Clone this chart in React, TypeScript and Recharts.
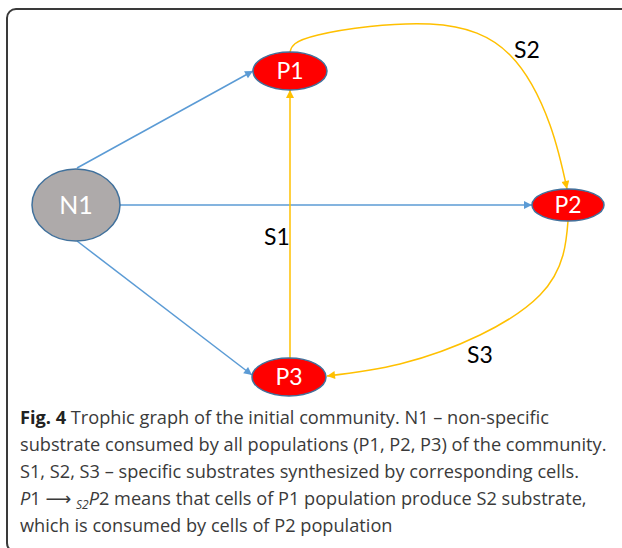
import React from "react";
import { ComposedChart, Line, Scatter, XAxis, YAxis } from "recharts";

// nodes of the trophic graph (plot units = pixels of the drawing area)
const nodeNames = ["N1", "P1", "P2", "P3"];
const nodeX = [76, 290, 568, 289];
const nodeY = [205, 71, 205, 377];

// non-specific substrate edges (N1 -> P*)
const n1Edges = [
  [[77, 168], [253, 71]],
  [[120, 205], [532, 205]],
  [[77, 241], [252, 375]],
];

// specific substrate edges
const s1Path = [[290, 358], [290, 90]];
const s2Path = [[290, 52], [318, 35], [430, 24], [510, 55], [550, 125], [567, 189]];
const s3Path = [[568, 221], [563, 255], [540, 295], [480, 335], [400, 364], [327, 376]];

const edgeLabels = ["S1", "S2", "S3"];
const edgeLabelX = [277, 527, 480];
const edgeLabelY = [237, 50, 355];

const BLUE = "#5B9BD5";
const ORANGE = "#FFC000";
const NODE_STROKE = "#41719C";
const FONT = "Lato, 'Open Sans', sans-serif";

const toPts = (p: number[][]) => p.map(([x, y]) => ({ x, y }));

const nodes = nodeNames.map((name, i) => ({ name, x: nodeX[i], y: nodeY[i] }));
const labels = edgeLabels.map((name, i) => ({ name, x: edgeLabelX[i], y: edgeLabelY[i] }));

const NodeShape = (props: any) => {
  const { cx, cy, payload } = props;
  const big = payload.name === "N1";
  const rx = big ? 44 : payload.name === "P2" ? 36 : 37;
  const ry = big ? 36 : payload.name === "P2" ? 16 : 19;
  return (
    <g>
      <ellipse cx={cx} cy={cy} rx={rx} ry={ry} fill={big ? "#AEAAAA" : "#FF0000"} stroke={NODE_STROKE} strokeWidth={1.5} />
      <text x={cx} y={cy} dy="0.36em" textAnchor="middle" fill="#fff" fontFamily={FONT} fontSize={big ? 25 : 23}>
        {payload.name}
      </text>
    </g>
  );
};

const LabelShape = (props: any) => {
  const { cx, cy, payload } = props;
  return (
    <text x={cx} y={cy} dy="0.36em" textAnchor="middle" fill="#000" fontFamily={FONT} fontSize={23}>
      {payload.name}
    </text>
  );
};

export default function App() {
  return (
    <div style={{ position: "fixed", left: 0, top: 0, width: 622, height: 548, overflow: "hidden", background: "#fff" }}>
      <svg width={0} height={0} style={{ position: "absolute" }}>
        <defs>
          <marker id="arrBlue" viewBox="0 0 10 10" refX={10} refY={5} markerWidth={9} markerHeight={8} markerUnits="userSpaceOnUse" orient="auto">
            <path d="M0,0 L10,5 L0,10 z" fill={BLUE} />
          </marker>
          <marker id="arrOrange" viewBox="0 0 10 10" refX={10} refY={5} markerWidth={9} markerHeight={8} markerUnits="userSpaceOnUse" orient="auto">
            <path d="M0,0 L10,5 L0,10 z" fill={ORANGE} />
          </marker>
        </defs>
      </svg>
      <div
        style={{
          position: "absolute",
          left: 6,
          top: 8,
          width: 640,
          height: 541,
          border: "2px solid #3a3a3a",
          borderRadius: 10,
        }}
      />
      <div style={{ position: "absolute", left: 0, top: 0 }}>
        <ComposedChart width={622} height={400} margin={{ top: 0, right: 0, bottom: 0, left: 0 }}>
          <XAxis dataKey="x" type="number" domain={[0, 622]} hide allowDataOverflow />
          <YAxis dataKey="y" type="number" domain={[0, 400]} reversed hide allowDataOverflow />
          {n1Edges.map((e, i) => (
            <Line
              key={"n" + i}
              data={toPts(e)}
              dataKey="y"
              type="linear"
              stroke={BLUE}
              strokeWidth={1.5}
              dot={false}
              activeDot={false}
              markerEnd="url(#arrBlue)"
              isAnimationActive={false}
            />
          ))}
          {[s1Path, s2Path, s3Path].map((p, i) => (
            <Line
              key={"s" + i}
              data={toPts(p)}
              dataKey="y"
              type={i === 0 ? "linear" : "natural"}
              stroke={ORANGE}
              strokeWidth={1.5}
              dot={false}
              activeDot={false}
              markerEnd="url(#arrOrange)"
              isAnimationActive={false}
            />
          ))}
          <Scatter data={nodes} dataKey="y" shape={NodeShape} isAnimationActive={false} />
          <Scatter data={labels} dataKey="y" shape={LabelShape} isAnimationActive={false} />
        </ComposedChart>
      </div>
      <div
        style={{
          position: "absolute",
          left: 20,
          top: 404,
          fontFamily: "'Open Sans', sans-serif",
          fontSize: 18.2,
          lineHeight: "27px",
          color: "#3a3a3a",
          whiteSpace: "nowrap",
        }}
      >
        <div>
          <b style={{ color: "#222" }}>Fig. 4</b> Trophic graph of the initial community. N1 – non-specific
        </div>
        <div>substrate consumed by all populations (P1, P2, P3) of the community.</div>
        <div>S1, S2, S3 – specific substrates synthesized by corresponding cells.</div>
        <div style={{ height: 27 }}>
          <i>P</i>1 <span style={{ fontFamily: "'DejaVu Sans', sans-serif", fontSize: 18 }}>⟶</span>{" "}
          <span style={{ position: "relative", top: 4, fontSize: 12 }}><i>S2</i></span><i>P</i>2 means that cells of P1 population produce S2 substrate,
        </div>
        <div>which is consumed by cells of P2 population</div>
      </div>
    </div>
  );
}
